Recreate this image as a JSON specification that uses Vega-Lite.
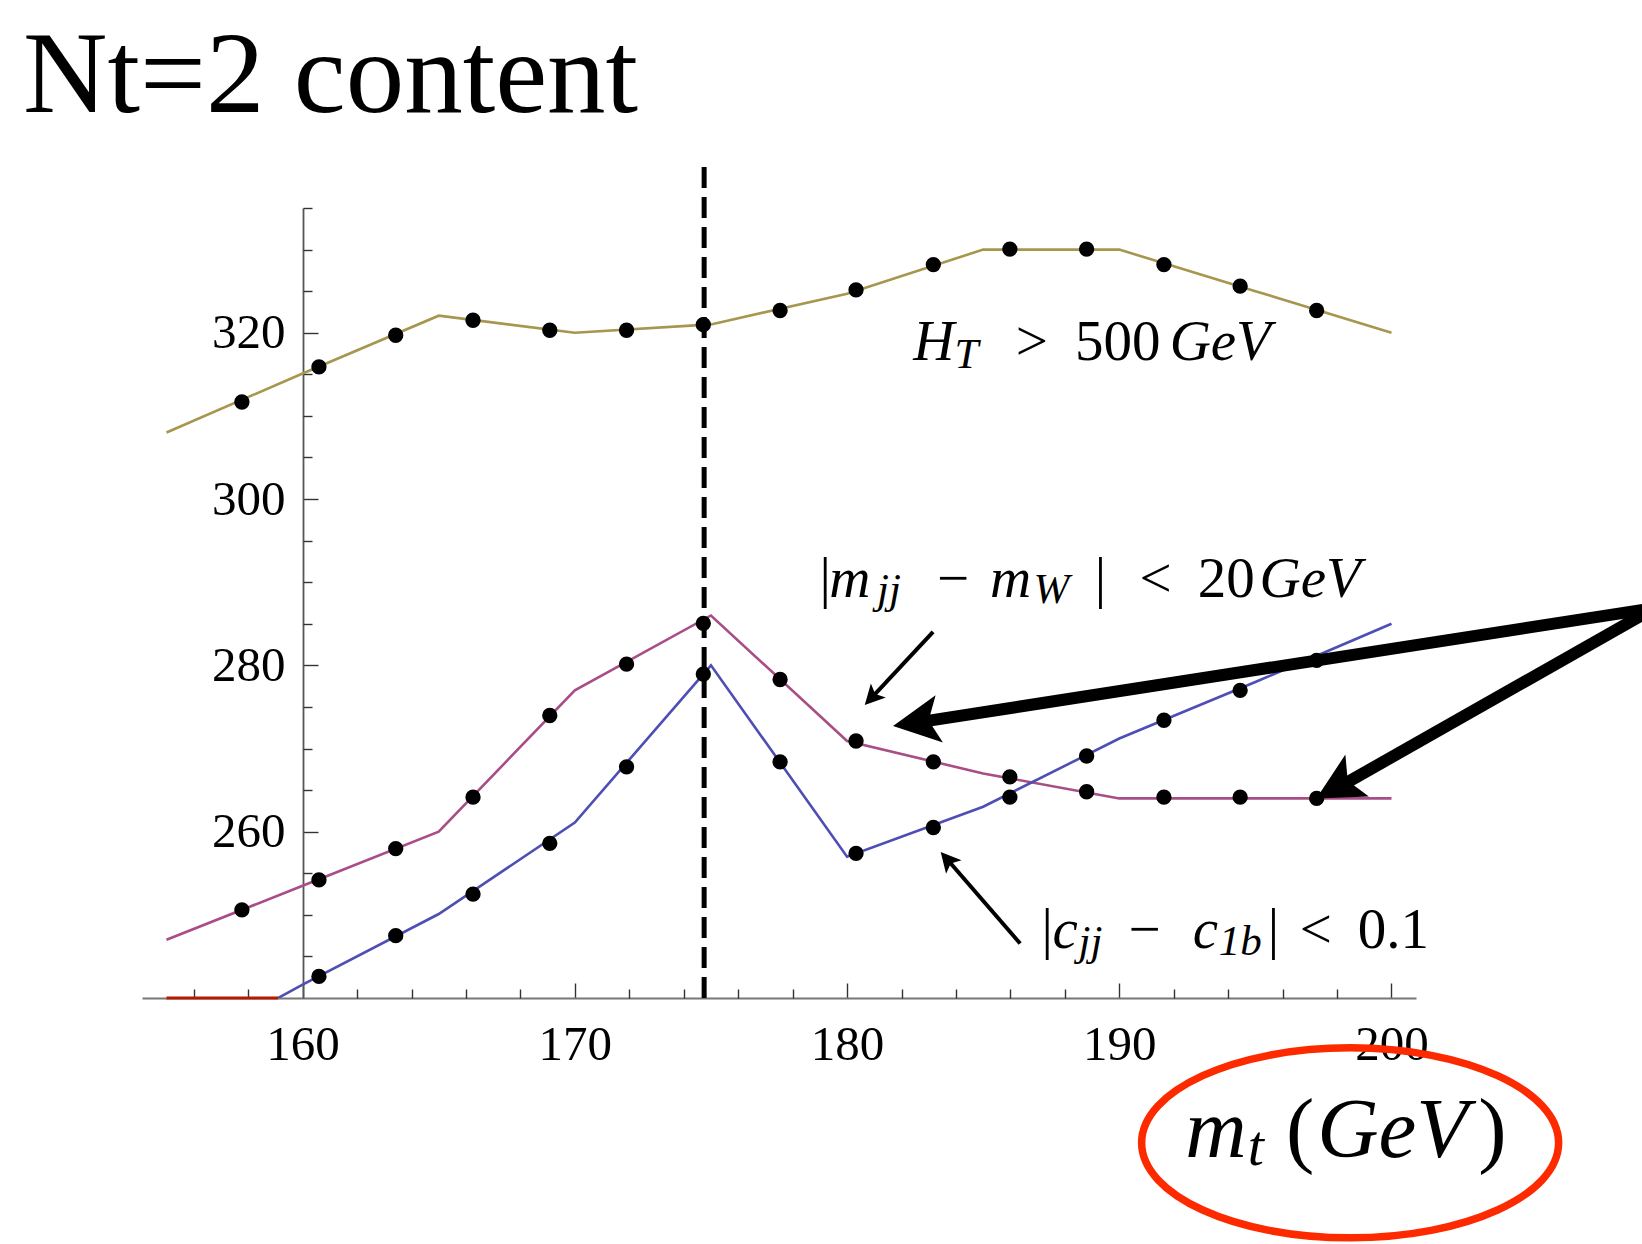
{
  "$schema": "https://vega.github.io/schema/vega-lite/v6.json",
  "width": 1274,
  "height": 790,
  "autosize": {"type": "none"},
  "padding": {"left": 142, "top": 208, "right": 226, "bottom": 246},
  "background": "white",
  "config": {"view": {"stroke": null}, "font": "Liberation Serif"},
  "title": {
    "text": "Nt=2 content",
    "anchor": "start",
    "frame": "group",
    "orient": "top",
    "font": "Liberation Serif",
    "fontSize": 117,
    "fontWeight": "normal",
    "color": "black",
    "baseline": "alphabetic",
    "dx": -119,
    "offset": -66
  },
  "resolve": {"axis": {"x": "independent", "y": "independent"}},
  "datasets": {
    "curves": [
      {"cut": "HT>500", "mt": 155, "value": 308.0},
      {"cut": "HT>500", "mt": 160, "value": 315.1},
      {"cut": "HT>500", "mt": 165, "value": 322.05},
      {"cut": "HT>500", "mt": 170, "value": 320.0},
      {"cut": "HT>500", "mt": 175, "value": 321.0},
      {"cut": "HT>500", "mt": 180, "value": 324.7},
      {"cut": "HT>500", "mt": 185, "value": 330.0},
      {"cut": "HT>500", "mt": 190, "value": 330.0},
      {"cut": "HT>500", "mt": 195, "value": 325.0},
      {"cut": "HT>500", "mt": 200, "value": 320.0},
      {"cut": "mjj", "mt": 155, "value": 247.0},
      {"cut": "mjj", "mt": 160, "value": 253.5},
      {"cut": "mjj", "mt": 165, "value": 260.0},
      {"cut": "mjj", "mt": 170, "value": 277.0},
      {"cut": "mjj", "mt": 175, "value": 286.0},
      {"cut": "mjj", "mt": 180, "value": 270.9},
      {"cut": "mjj", "mt": 185, "value": 267.0},
      {"cut": "mjj", "mt": 190, "value": 264.0},
      {"cut": "mjj", "mt": 195, "value": 264.0},
      {"cut": "mjj", "mt": 200, "value": 264.0},
      {"cut": "cjj", "mt": 155, "value": 232.7},
      {"cut": "cjj", "mt": 160, "value": 241.6},
      {"cut": "cjj", "mt": 165, "value": 250.1},
      {"cut": "cjj", "mt": 170, "value": 261.1},
      {"cut": "cjj", "mt": 175, "value": 280.0},
      {"cut": "cjj", "mt": 180, "value": 257.0},
      {"cut": "cjj", "mt": 185, "value": 263.0},
      {"cut": "cjj", "mt": 190, "value": 271.2},
      {"cut": "cjj", "mt": 195, "value": 278.0},
      {"cut": "cjj", "mt": 200, "value": 285.0}
    ],
    "floor": [
      {"cut": "series4", "mt": 155, "value": 240},
      {"cut": "series4", "mt": 159.1, "value": 240}
    ],
    "samples": [
      {"cut": "HT>500", "mt": 157.77, "value": 311.67},
      {"cut": "HT>500", "mt": 160.6, "value": 315.9},
      {"cut": "HT>500", "mt": 163.42, "value": 319.7},
      {"cut": "HT>500", "mt": 166.26, "value": 321.5},
      {"cut": "HT>500", "mt": 169.08, "value": 320.3},
      {"cut": "HT>500", "mt": 171.9, "value": 320.3},
      {"cut": "HT>500", "mt": 174.72, "value": 320.97},
      {"cut": "HT>500", "mt": 177.54, "value": 322.67},
      {"cut": "HT>500", "mt": 180.33, "value": 325.16},
      {"cut": "HT>500", "mt": 183.17, "value": 328.2},
      {"cut": "HT>500", "mt": 185.98, "value": 330.06},
      {"cut": "HT>500", "mt": 188.8, "value": 330.06},
      {"cut": "HT>500", "mt": 191.64, "value": 328.2},
      {"cut": "HT>500", "mt": 194.44, "value": 325.6},
      {"cut": "HT>500", "mt": 197.25, "value": 322.67},
      {"cut": "mjj", "mt": 157.77, "value": 250.6},
      {"cut": "mjj", "mt": 160.6, "value": 254.2},
      {"cut": "mjj", "mt": 163.42, "value": 257.97},
      {"cut": "mjj", "mt": 166.26, "value": 264.15},
      {"cut": "mjj", "mt": 169.08, "value": 273.97},
      {"cut": "mjj", "mt": 171.9, "value": 280.15},
      {"cut": "mjj", "mt": 174.72, "value": 285.05},
      {"cut": "mjj", "mt": 177.54, "value": 278.3},
      {"cut": "mjj", "mt": 180.33, "value": 270.9},
      {"cut": "mjj", "mt": 183.17, "value": 268.4},
      {"cut": "mjj", "mt": 185.98, "value": 266.6},
      {"cut": "mjj", "mt": 188.8, "value": 264.8},
      {"cut": "mjj", "mt": 191.64, "value": 264.15},
      {"cut": "mjj", "mt": 194.44, "value": 264.15},
      {"cut": "mjj", "mt": 197.25, "value": 264.0},
      {"cut": "cjj", "mt": 160.6, "value": 242.6},
      {"cut": "cjj", "mt": 163.42, "value": 247.5},
      {"cut": "cjj", "mt": 166.26, "value": 252.5},
      {"cut": "cjj", "mt": 169.08, "value": 258.6},
      {"cut": "cjj", "mt": 171.9, "value": 267.8},
      {"cut": "cjj", "mt": 174.72, "value": 278.95},
      {"cut": "cjj", "mt": 177.54, "value": 268.4},
      {"cut": "cjj", "mt": 180.33, "value": 257.4},
      {"cut": "cjj", "mt": 183.17, "value": 260.5},
      {"cut": "cjj", "mt": 185.98, "value": 264.15},
      {"cut": "cjj", "mt": 188.8, "value": 269.1},
      {"cut": "cjj", "mt": 191.64, "value": 273.4},
      {"cut": "cjj", "mt": 194.44, "value": 277.0},
      {"cut": "cjj", "mt": 197.25, "value": 280.6}
    ],
    "marker": [{"mt": 174.75, "lo": 240, "hi": 340.1}],
    "thickShafts": [
      {"mt": 209.67, "value": 286.9, "mt2": 182.9, "value2": 273.3},
      {"mt": 209.67, "value": 286.9, "mt2": 198.3, "value2": 265.8}
    ],
    "thinShafts": [
      {"mt": 183.16, "value": 284.04, "mt2": 181.0, "value2": 276.45},
      {"mt": 186.36, "value": 246.55, "mt2": 183.78, "value2": 256.29}
    ],
    "italic": [
      {"label": "H", "mt": 182.43, "value": 316.74},
      {"label": "GeV", "mt": 191.85, "value": 316.74},
      {"label": "m", "mt": 179.35, "value": 288.25},
      {"label": "m", "mt": 185.25, "value": 288.25},
      {"label": "GeV", "mt": 195.15, "value": 288.25},
      {"label": "c", "mt": 187.55, "value": 245.98},
      {"label": "c", "mt": 192.7, "value": 245.98}
    ],
    "italicSub": [
      {"label": "T", "mt": 183.95, "value": 315.74},
      {"label": "jj", "mt": 181.1, "value": 287.5},
      {"label": "W", "mt": 186.85, "value": 287.5},
      {"label": "jj", "mt": 188.5, "value": 245.2},
      {"label": "1b", "mt": 193.65, "value": 245.2}
    ],
    "roman": [
      {"label": ">", "mt": 186.2, "value": 316.74},
      {"label": "500", "mt": 188.37, "value": 316.74},
      {"label": "|", "mt": 178.99, "value": 288.25},
      {"label": "−", "mt": 183.3, "value": 288.25},
      {"label": "|", "mt": 189.1, "value": 288.25},
      {"label": "<", "mt": 190.74, "value": 288.25},
      {"label": "20", "mt": 192.88, "value": 288.25},
      {"label": "|", "mt": 187.14, "value": 245.98},
      {"label": "−", "mt": 190.34, "value": 245.98},
      {"label": "|", "mt": 195.45, "value": 245.98},
      {"label": "<", "mt": 196.63, "value": 245.98},
      {"label": "0.1", "mt": 198.76, "value": 245.98}
    ],
    "axisItalic": [
      {"label": "m", "mt": 192.42, "value": 220.83},
      {"label": "GeV", "mt": 197.27, "value": 220.83}
    ],
    "axisSub": [
      {"label": "t", "mt": 194.72, "value": 219.93}
    ],
    "axisRoman": [
      {"label": "(", "mt": 196.12, "value": 220.83},
      {"label": ")", "mt": 203.19, "value": 220.83}
    ]
  },
  "layer": [
    {
      "data": {"name": "curves"},
      "mark": {"type": "line", "strokeWidth": 2.6, "clip": true},
      "encoding": {
        "x": {
          "field": "mt",
          "type": "quantitative",
          "scale": {"domain": [154.1, 200.9], "nice": false, "zero": false},
          "axis": {
            "orient": "bottom",
            "title": null,
            "grid": false,
            "values": [160, 170, 180, 190, 200],
            "format": "d",
            "tickSize": -15,
            "tickColor": "#333333",
            "tickWidth": 1.4,
            "domainColor": "#777777",
            "domainWidth": 1.8,
            "labelFont": "Liberation Serif",
            "labelFontSize": 49,
            "labelColor": "black",
            "labelPadding": 37,
            "labelOverlap": false,
            "labelFlush": false,
            "labelBound": false
          }
        },
        "y": {
          "field": "value",
          "type": "quantitative",
          "scale": {"domain": [240, 335], "nice": false, "zero": false},
          "axis": {
            "orient": "left",
            "title": null,
            "grid": false,
            "offset": -161,
            "values": [260, 280, 300, 320],
            "format": "d",
            "tickSize": -15,
            "tickColor": "#333333",
            "tickWidth": 1.4,
            "domainColor": "#555555",
            "domainWidth": 1.8,
            "labelFont": "Liberation Serif",
            "labelFontSize": 49,
            "labelColor": "black",
            "labelPadding": 33,
            "labelOverlap": false,
            "labelFlush": false,
            "labelBound": false
          }
        },
        "color": {
          "field": "cut",
          "type": "nominal",
          "scale": {"domain": ["HT>500", "mjj", "cjj", "series4"], "range": ["#a6964e", "#a84d86", "#4e4eb4", "#b31a00"]},
          "legend": null
        }
      }
    },
    {
      "data": {"name": "floor"},
      "mark": {"type": "line", "strokeWidth": 3},
      "encoding": {
        "x": {
          "field": "mt",
          "type": "quantitative",
          "axis": {
            "orient": "bottom",
            "title": null,
            "grid": false,
            "domain": false,
            "labels": false,
            "values": [156, 158, 162, 164, 166, 168, 172, 174, 176, 178, 182, 184, 186, 188, 192, 194, 196, 198],
            "tickSize": -9,
            "tickColor": "#333333",
            "tickWidth": 1.4
          }
        },
        "y": {
          "field": "value",
          "type": "quantitative",
          "axis": {
            "orient": "left",
            "title": null,
            "grid": false,
            "domain": false,
            "labels": false,
            "offset": -161,
            "values": [245, 250, 255, 265, 270, 275, 285, 290, 295, 305, 310, 315, 325, 330, 335],
            "tickSize": -9,
            "tickColor": "#333333",
            "tickWidth": 1.4
          }
        },
        "color": {"field": "cut", "type": "nominal", "legend": null}
      }
    },
    {
      "data": {"name": "marker"},
      "mark": {"type": "rule", "color": "black", "strokeWidth": 5, "strokeDash": [21, 9]},
      "encoding": {
        "x": {"field": "mt", "type": "quantitative", "axis": null},
        "y": {"field": "lo", "type": "quantitative", "axis": null},
        "y2": {"field": "hi"}
      }
    },
    {
      "data": {"name": "samples"},
      "mark": {"type": "point", "filled": true, "color": "black", "opacity": 1, "size": 235},
      "encoding": {
        "x": {"field": "mt", "type": "quantitative", "axis": null},
        "y": {"field": "value", "type": "quantitative", "axis": null}
      }
    },
    {
      "data": {"name": "thickShafts"},
      "mark": {"type": "rule", "color": "black", "strokeWidth": 12, "strokeCap": "butt"},
      "encoding": {
        "x": {"field": "mt", "type": "quantitative", "axis": null},
        "y": {"field": "value", "type": "quantitative", "axis": null},
        "x2": {"field": "mt2"},
        "y2": {"field": "value2"}
      }
    },
    {
      "data": {"name": "thinShafts"},
      "mark": {"type": "rule", "color": "black", "strokeWidth": 4, "strokeCap": "butt"},
      "encoding": {
        "x": {"field": "mt", "type": "quantitative", "axis": null},
        "y": {"field": "value", "type": "quantitative", "axis": null},
        "x2": {"field": "mt2"},
        "y2": {"field": "value2"}
      }
    },
    {
      "data": {"values": [{"mt": 181.69, "value": 272.7}]},
      "mark": {"type": "point", "shape": "M 0 0 L 1 1.95 L 0 1.5 L -1 1.95 Z", "filled": true, "color": "black", "opacity": 1, "size": 2300, "angle": 261.2, "strokeWidth": 0},
      "encoding": {
        "x": {"field": "mt", "type": "quantitative", "axis": null},
        "y": {"field": "value", "type": "quantitative", "axis": null}
      }
    },
    {
      "data": {"values": [{"mt": 197.24, "value": 264.0}]},
      "mark": {"type": "point", "shape": "M 0 0 L 1 1.95 L 0 1.5 L -1 1.95 Z", "filled": true, "color": "black", "opacity": 1, "size": 2300, "angle": 240.65, "strokeWidth": 0},
      "encoding": {
        "x": {"field": "mt", "type": "quantitative", "axis": null},
        "y": {"field": "value", "type": "quantitative", "axis": null}
      }
    },
    {
      "data": {"values": [{"mt": 180.65, "value": 275.22}]},
      "mark": {"type": "point", "shape": "M 0 0 L 1 1.95 L 0 1.5 L -1 1.95 Z", "filled": true, "color": "black", "opacity": 1, "size": 420, "angle": 223.0, "strokeWidth": 0},
      "encoding": {
        "x": {"field": "mt", "type": "quantitative", "axis": null},
        "y": {"field": "value", "type": "quantitative", "axis": null}
      }
    },
    {
      "data": {"values": [{"mt": 183.44, "value": 257.57}]},
      "mark": {"type": "point", "shape": "M 0 0 L 1 1.95 L 0 1.5 L -1 1.95 Z", "filled": true, "color": "black", "opacity": 1, "size": 420, "angle": 319.05, "strokeWidth": 0},
      "encoding": {
        "x": {"field": "mt", "type": "quantitative", "axis": null},
        "y": {"field": "value", "type": "quantitative", "axis": null}
      }
    },
    {
      "data": {"name": "italic"},
      "mark": {"type": "text", "font": "Liberation Serif", "fontSize": 57, "fontStyle": "italic", "align": "left", "baseline": "alphabetic", "color": "black"},
      "encoding": {
        "x": {"field": "mt", "type": "quantitative", "axis": null},
        "y": {"field": "value", "type": "quantitative", "axis": null},
        "text": {"field": "label"}
      }
    },
    {
      "data": {"name": "italicSub"},
      "mark": {"type": "text", "font": "Liberation Serif", "fontSize": 43, "fontStyle": "italic", "align": "left", "baseline": "alphabetic", "color": "black"},
      "encoding": {
        "x": {"field": "mt", "type": "quantitative", "axis": null},
        "y": {"field": "value", "type": "quantitative", "axis": null},
        "text": {"field": "label"}
      }
    },
    {
      "data": {"name": "roman"},
      "mark": {"type": "text", "font": "Liberation Serif", "fontSize": 57, "align": "left", "baseline": "alphabetic", "color": "black"},
      "encoding": {
        "x": {"field": "mt", "type": "quantitative", "axis": null},
        "y": {"field": "value", "type": "quantitative", "axis": null},
        "text": {"field": "label"}
      }
    },
    {
      "data": {"name": "axisItalic"},
      "mark": {"type": "text", "font": "Liberation Serif", "fontSize": 85, "fontStyle": "italic", "align": "left", "baseline": "alphabetic", "color": "black"},
      "encoding": {
        "x": {"field": "mt", "type": "quantitative", "axis": null},
        "y": {"field": "value", "type": "quantitative", "axis": null},
        "text": {"field": "label"}
      }
    },
    {
      "data": {"name": "axisSub"},
      "mark": {"type": "text", "font": "Liberation Serif", "fontSize": 58, "fontStyle": "italic", "align": "left", "baseline": "alphabetic", "color": "black"},
      "encoding": {
        "x": {"field": "mt", "type": "quantitative", "axis": null},
        "y": {"field": "value", "type": "quantitative", "axis": null},
        "text": {"field": "label"}
      }
    },
    {
      "data": {"name": "axisRoman"},
      "mark": {"type": "text", "font": "Liberation Serif", "fontSize": 85, "align": "left", "baseline": "alphabetic", "color": "black"},
      "encoding": {
        "x": {"field": "mt", "type": "quantitative", "axis": null},
        "y": {"field": "value", "type": "quantitative", "axis": null},
        "text": {"field": "label"}
      }
    },
    {
      "data": {"values": [{"mt": 198.48, "value": 222.58}]},
      "mark": {
        "type": "point",
        "shape": "M 1 0 C 1 0.2516 0.5523 0.4556 0 0.4556 C -0.5523 0.4556 -1 0.2516 -1 0 C -1 -0.2516 -0.5523 -0.4556 0 -0.4556 C 0.5523 -0.4556 1 -0.2516 1 0 Z",
        "filled": false,
        "color": "#fd2a00",
        "opacity": 1,
        "strokeWidth": 7.5,
        "size": 173889
      },
      "encoding": {
        "x": {"field": "mt", "type": "quantitative", "axis": null},
        "y": {"field": "value", "type": "quantitative", "axis": null}
      }
    }
  ]
}
